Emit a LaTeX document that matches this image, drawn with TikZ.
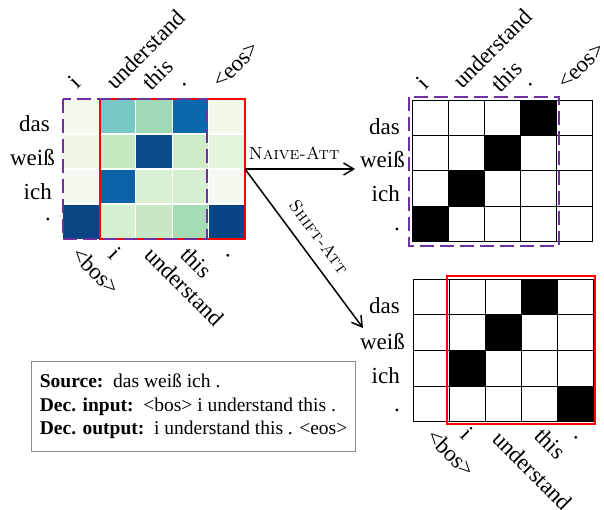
\documentclass[tikz,border=0pt]{standalone}
\usepackage{fontspec}
\newfontfamily\tnr{Liberation Serif}
\usetikzlibrary{arrows.meta}
\definecolor{purp}{HTML}{7030A0}
\definecolor{hAA}{HTML}{F4F9EE}
\definecolor{hAB}{HTML}{78C9C6}
\definecolor{hAC}{HTML}{A0DAB8}
\definecolor{hAD}{HTML}{0B67AB}
\definecolor{hAE}{HTML}{F0F8E8}
\definecolor{hBA}{HTML}{EEF7E6}
\definecolor{hBB}{HTML}{C6E9C2}
\definecolor{hBC}{HTML}{0A4B8C}
\definecolor{hBD}{HTML}{CDEBC8}
\definecolor{hBE}{HTML}{E2F4DC}
\definecolor{hCA}{HTML}{F5FAF0}
\definecolor{hCB}{HTML}{0B62A6}
\definecolor{hCC}{HTML}{D9F0D3}
\definecolor{hCD}{HTML}{D6EFD0}
\definecolor{hCE}{HTML}{F5FAF0}
\definecolor{hDA}{HTML}{0A4584}
\definecolor{hDB}{HTML}{D6EFD0}
\definecolor{hDC}{HTML}{C8E9C4}
\definecolor{hDD}{HTML}{A6DCB4}
\definecolor{hDE}{HTML}{084585}
\tikzset{
  lab/.style={font=\tnr\fontsize{23}{26}\selectfont, inner sep=0pt},
  rowlab/.style={lab, anchor=base east},
  uplab/.style={lab, rotate=45, anchor=base west},
  downlab/.style={lab, rotate=-45, anchor=base west},
  arrlab/.style={font=\fontsize{17.5}{20}\selectfont\scshape, inner sep=0pt},
  arr/.style={line width=1.5pt, -{Straight Barb[length=10pt,width=12pt,line width=1.5pt]}},
  redbox/.style={draw=red, line width=2.2pt},
  purpbox/.style={draw=purp, line width=2.2pt, dash pattern=on 14pt off 6pt},
  cellgrid/.style={black, line width=0.9pt},
  infobox/.style={draw=black!45, line width=1.2pt, anchor=north west, inner sep=0pt,
    minimum width=324pt, minimum height=90pt, align=left,
    font=\tnr\fontsize{19.5}{23.5}\selectfont}
}
\begin{document}
\begin{tikzpicture}[x=1pt,y=-1pt]
\useasboundingbox (0,0) rectangle (604,510);

% ---------- left heat map ----------
\foreach \r/\R in {0/A,1/B,2/C,3/D}{
  \foreach \c/\C in {0/A,1/B,2/C,3/D,4/E}{
    \fill[h\R\C] (63+\c*36.4, 99+\r*35) rectangle ++(36.4,35);
  }
}
\foreach \i in {1,2,3,4} \draw[white, line width=1.2pt] (63+\i*36.4,99) -- ++(0,140);
\foreach \j in {1,2,3} \draw[white, line width=1.2pt] (63,99+\j*35) -- ++(182,0);
\draw[redbox] (100,99) rectangle (245,239);
\draw[purpbox] (63,99) rectangle (207,239);

\node[rowlab] (Ldas) at (50,132) {das};
\node[rowlab] (Lweiss) at (55,166) {weiß};
\node[rowlab] (Lich) at (52,200) {ich};
\node[rowlab] (Ldot) at (51,221) {.};

\node[uplab] (Lt0) at (77,90) {i};
\node[uplab] (Lt1) at (115,91) {understand};
\node[uplab] (Lt2) at (151,92) {this};
\node[uplab] (Lt3) at (183,88) {.};
\node[uplab] (Lt4) at (221,90) {<eos>};

\node[downlab] (Lb0) at (70,256) {<bos>};
\node[downlab] (Lb1) at (107,256) {i};
\node[downlab] (Lb2) at (143,256) {understand};
\node[downlab] (Lb3) at (179,256) {this};
\node[downlab] (Lb4) at (225,254) {.};

% ---------- right top grid ----------
\foreach \r/\c in {0/3,1/2,2/1,3/0}
  \fill[black] (412.7+\c*35.9, 100+\r*35.4) rectangle ++(35.9,35.4);
\foreach \i in {0,...,5} \draw[cellgrid] (412.7+\i*35.9,100) -- ++(0,141.6);
\foreach \j in {0,...,4} \draw[cellgrid] (412.7,100+\j*35.4) -- ++(179.5,0);
\draw[purpbox] (409,96.7) rectangle (559,246);

\node[rowlab] (Tdas) at (400,135) {das};
\node[rowlab] (Tweiss) at (405,168) {weiß};
\node[rowlab] (Tich) at (400,202) {ich};
\node[rowlab] (Tdot) at (400,231) {.};

\node[uplab] (Tt0) at (425,91) {i};
\node[uplab] (Tt1) at (462,90) {understand};
\node[uplab] (Tt2) at (500,94) {this};
\node[uplab] (Tt3) at (529,88) {.};
\node[uplab] (Tt4) at (566,91) {<eos>};

% ---------- right bottom grid ----------
\foreach \r/\c in {0/3,1/2,2/1,3/4}
  \fill[black] (413.3+\c*36, 279.3+\r*35.6) rectangle ++(36,35.6);
\foreach \i in {0,...,5} \draw[cellgrid] (413.3+\i*36,279.3) -- ++(0,142.4);
\foreach \j in {0,...,4} \draw[cellgrid] (413.3,279.3+\j*35.6) -- ++(180,0);
\draw[redbox] (447.3,275.7) rectangle (595,424.3);

\node[rowlab] (Bdas) at (400,313) {das};
\node[rowlab] (Bweiss) at (405,349) {weiß};
\node[rowlab] (Bich) at (400,383) {ich};
\node[rowlab] (Bdot) at (400,411) {.};

\node[downlab] (Bb0) at (425,438) {<bos>};
\node[downlab] (Bb1) at (459,436) {i};
\node[downlab] (Bb2) at (491,440) {understand};
\node[downlab] (Bb3) at (533,437) {this};
\node[downlab] (Bb4) at (573,436) {.};

% ---------- arrows ----------
\coordinate (src) at (245,169);
\coordinate (dstA) at (355,169);
\coordinate (dstB) at (363,328);
\draw[arr] (src) -- (dstA);
\draw[arr] (src) -- (dstB);
\node[arrlab, anchor=base] (naive) at (294,160) {Naive-Att};
\node[arrlab, rotate=-53.4] (shift) at (319,237) {Shift-Att};

% ---------- info box ----------
\node[infobox] (info) at (31,361) {\textbf{Source:}\ \ das weiß ich .\\
\textbf{Dec. input:}\ \ <bos> i understand this .\\
\textbf{Dec. output:}\ \ i understand this . <eos>};
\end{tikzpicture}
\end{document}
